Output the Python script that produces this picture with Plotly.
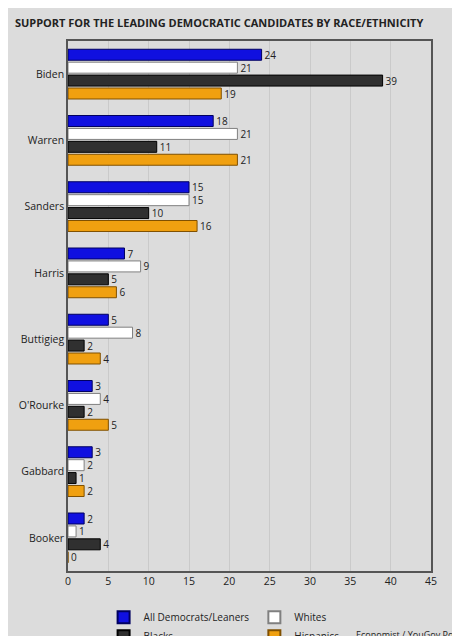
import plotly.graph_objects as go

candidates = ["Biden", "Warren", "Sanders", "Harris", "Buttigieg", "O'Rourke", "Gabbard", "Booker"]
all_dems = [24, 18, 15, 7, 5, 3, 3, 2]
whites = [21, 21, 15, 9, 8, 4, 2, 1]
blacks = [39, 11, 10, 5, 2, 2, 1, 4]
hispanics = [19, 21, 16, 6, 4, 5, 2, 0]

series = [
    ("All Democrats/Leaners", all_dems, "#1010e0", "#000060"),
    ("Whites", whites, "#ffffff", "#808080"),
    ("Blacks", blacks, "#303030", "#000000"),
    ("Hispanics", hispanics, "#f0a010", "#805000"),
]

fig = go.Figure()
for name, vals, color, line in series:
    fig.add_trace(go.Bar(
        name=name, y=candidates, x=vals, orientation="h",
        marker=dict(color=color, line=dict(color=line, width=1)),
        text=[str(v) for v in vals], textposition="outside", cliponaxis=False,
        constraintext="none",
        textfont=dict(size=10, color="#222222"),
    ))

fig.update_layout(
    width=460, height=636,
    paper_bgcolor="#dcdcdc", plot_bgcolor="#dcdcdc",
    font=dict(family="Open Sans", size=10, color="#222222"),
    margin=dict(l=60, r=37, t=33, b=73, autoexpand=False),
    barmode="group", bargap=0.22, bargroupgap=0.15,
    title=dict(text="<b>SUPPORT FOR THE LEADING DEMOCRATIC CANDIDATES BY RACE/ETHNICITY</b>",
               x=0.015, xanchor="left", y=0.982, font=dict(size=11, color="#222222")),
    legend=dict(orientation="h", x=0.43, xanchor="center", y=-0.06, yanchor="top",
                font=dict(size=10), traceorder="normal", bgcolor="rgba(0,0,0,0)",
                itemwidth=30, entrywidth=0, itemsizing="constant"),
    showlegend=True,
    annotations=[dict(text="Economist / YouGov Poll", x=1.08, xref="paper", xanchor="right",
                      y=-0.12, yref="paper", yanchor="middle", showarrow=False,
                      font=dict(size=9))],
)
fig.update_xaxes(range=[0, 45], dtick=5, showgrid=True, gridcolor="#cacaca",
                 tickfont=dict(size=10.5, family="Open Sans"), ticks="", zeroline=False,
                 showline=True, linecolor="#555555", mirror=True, linewidth=1.5,
                 automargin=False)
fig.update_yaxes(autorange="reversed", tickfont=dict(size=10.5), showline=True,
                 linecolor="#555555", mirror=True, linewidth=1.5, ticks="",
                 automargin=False)
fig.write_html("out.html")
